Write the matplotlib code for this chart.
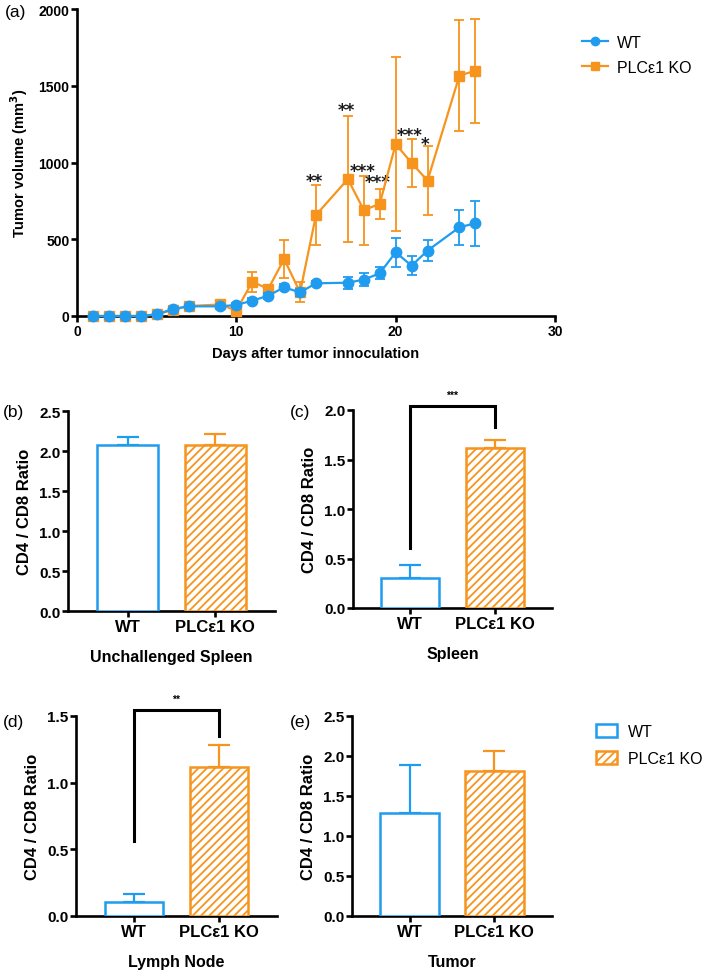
import numpy as np
import matplotlib.pyplot as plt
from matplotlib.patches import Patch
from matplotlib.lines import Line2D

plt.rcParams['font.family'] = ['Liberation Sans', 'DejaVu Sans']
plt.rcParams['hatch.linewidth'] = 1.3

BLUE = '#1f9cf0'
ORANGE = '#f7941d'

# ---- panel (a): tumor growth ----
days = [1, 2, 3, 4, 5, 6, 7, 9, 10, 11, 12, 13, 14, 15, 17, 18, 19, 20, 21, 22, 24, 25]
wt_mean = [0, 0, 0, 0, 10, 45, 63, 63, 72, 100, 132, 187, 154, 213, 217, 237, 278, 415, 328, 426, 578, 604]
wt_err = [0, 0, 0, 0, 5, 8, 10, 10, 10, 15, 20, 20, 25, 15, 40, 42, 38, 95, 60, 70, 115, 148]
ko_mean = [0, 0, 0, 0, 10, 40, 65, 75, 35, 224, 176, 371, 154, 658, 892, 690, 730, 1120, 997, 882, 1566, 1598]
ko_err = [0, 0, 0, 0, 5, 8, 10, 12, 10, 65, 25, 122, 65, 197, 412, 225, 98, 565, 157, 225, 360, 340]

star_x = [14.9, 16.9, 17.9, 18.9, 20.9, 21.85]
star_y = [911, 1373, 976, 905, 1213, 1152]
star_txt = ['**', '**', '***', '***', '***', '*']

# ---- panels (b)-(e): CD4/CD8 ratio ----
groups = ['WT', 'PLC\u03b51 KO']
panels = ['(b)', '(c)', '(d)', '(e)']
tissues = ['Unchallenged Spleen', 'Spleen', 'Lymph Node', 'Tumor']
ratio_mean = [[2.08, 2.07], [0.30, 1.614], [0.105, 1.114], [1.288, 1.81]]
ratio_err = [[0.09, 0.14], [0.13, 0.08], [0.058, 0.17], [0.60, 0.25]]
ymax = [2.5, 2.0, 1.5, 2.5]
sig = [None, '***', '**', None]
brackets = [None, (0.604, 2.04, 1.83), (0.564, 1.543, 1.35), None]

W, H = 709, 978
fig = plt.figure(figsize=(W / 100, H / 100), dpi=100)


def box(l, r, t, b):
    return [l / W, 1 - b / H, (r - l) / W, (b - t) / H]


def style(ax):
    for s in ['top', 'right']:
        ax.spines[s].set_visible(False)
    for s in ['left', 'bottom']:
        ax.spines[s].set_linewidth(1.9)
    ax.tick_params(width=1.9, length=4, pad=1.5)


ax = fig.add_axes(box(77, 555, 10, 317))
style(ax)
ax.errorbar(days, ko_mean, yerr=ko_err, color=ORANGE, marker='s', ms=7.5, lw=1.6,
            capsize=3.5, elinewidth=1.3, capthick=1.3, clip_on=False, zorder=3)
ax.errorbar(days, wt_mean, yerr=wt_err, color=BLUE, marker='o', ms=7.5, lw=1.6,
            capsize=3.5, elinewidth=1.3, capthick=1.3, clip_on=False, zorder=4)
# significance asterisks, centred on the given point
for x, y, t in zip(star_x, star_y, star_txt):
    ax.annotate(t, (x, y), xytext=(0, -7), textcoords='offset points', ha='center',
                va='baseline', fontsize=12, fontweight='bold', family='DejaVu Sans',
                color='#1a1a1a')
ax.set_xlim(0, 30)
ax.set_ylim(0, 2000)
ax.set_xticks([0, 10, 20, 30])
ax.set_yticks([0, 500, 1000, 1500, 2000])
for lab in ax.get_xticklabels() + ax.get_yticklabels():
    lab.set_fontweight('bold')
    lab.set_fontsize(10)
ax.set_xlabel('Days after tumor innoculation', fontsize=10.5, fontweight='bold', labelpad=6)
ax.set_ylabel('Tumor volume (mm$^\\mathbf{3}$)', fontsize=10.5, fontweight='bold', labelpad=6)
handles = [Line2D([], [], color=BLUE, marker='o', ms=6, lw=1.6),
           Line2D([], [], color=ORANGE, marker='s', ms=6, lw=1.6)]
fig.legend(handles, ['WT', 'PLC\u03b51 KO'], loc='upper left', bbox_to_anchor=(582 / W, 1 - 36 / H),
           frameon=False, fontsize=11.5, handlelength=1.6, handletextpad=0.6, labelspacing=0.6,
           borderpad=0, borderaxespad=0)
fig.text(5 / W, 1 - 13 / H, '(a)', fontsize=12.5, va='center')

boxes = [box(68, 275, 412, 612), box(353, 552, 411, 609), box(76, 277, 717, 917), box(352, 552, 717, 917)]
label_pos = [(3, 413), (290, 413), (3, 722), (290, 722)]
for i in range(4):
    ax = fig.add_axes(boxes[i])
    style(ax)
    xs = np.arange(2)
    ax.bar(xs[0], ratio_mean[i][0], width=0.69, facecolor='white', edgecolor=BLUE, lw=1.8, zorder=3)
    ax.bar(xs[1], ratio_mean[i][1], width=0.69, facecolor='white', edgecolor=ORANGE, hatch='////',
           lw=1.8, zorder=3)
    for j, c in enumerate([BLUE, ORANGE]):
        ax.errorbar(xs[j], ratio_mean[i][j], yerr=[[0], [ratio_err[i][j]]], color=c, lw=1.6,
                    capsize=8, capthick=1.6, zorder=2)
    if brackets[i] is not None:
        lo, top, rlo = brackets[i]
        ax.plot([0, 0, 1, 1], [lo, top, top, rlo], color='black', lw=2.2, clip_on=False,
                solid_joinstyle='miter')
        ax.text(0.5, top + 0.03 * ymax[i], sig[i], ha='center', va='bottom', fontsize=7.5,
                fontweight='bold')
    ax.set_xlim(-0.68, 1.68)
    ax.set_ylim(0, ymax[i])
    ax.set_yticks(np.arange(0, ymax[i] + 0.01, 0.5))
    ax.set_yticklabels(['%.1f' % v for v in np.arange(0, ymax[i] + 0.01, 0.5)])
    ax.set_xticks(xs)
    ax.set_xticklabels(groups)
    for lab in ax.get_yticklabels():
        lab.set_fontweight('bold')
        lab.set_fontsize(11)
    for lab in ax.get_xticklabels():
        lab.set_fontweight('bold')
        lab.set_fontsize(12)
    ax.set_ylabel('CD4 / CD8 Ratio', fontsize=12, fontweight='bold', labelpad=5)
    ax.set_xlabel(tissues[i], fontsize=11.5, fontweight='bold', labelpad=11)
    fig.text(label_pos[i][0] / W, 1 - label_pos[i][1] / H, panels[i], fontsize=12.5, va='center')

bh = [Patch(facecolor='white', edgecolor=BLUE, lw=1.8),
      Patch(facecolor='white', edgecolor=ORANGE, hatch='////', lw=1.8)]
fig.legend(bh, groups, loc='upper left', bbox_to_anchor=(596 / W, 1 - 725 / H), frameon=False,
           fontsize=11.5, handlelength=1.3, handleheight=0.8, handletextpad=0.7, labelspacing=0.75,
           borderpad=0, borderaxespad=0)

fig.savefig('out.png', dpi=100)
